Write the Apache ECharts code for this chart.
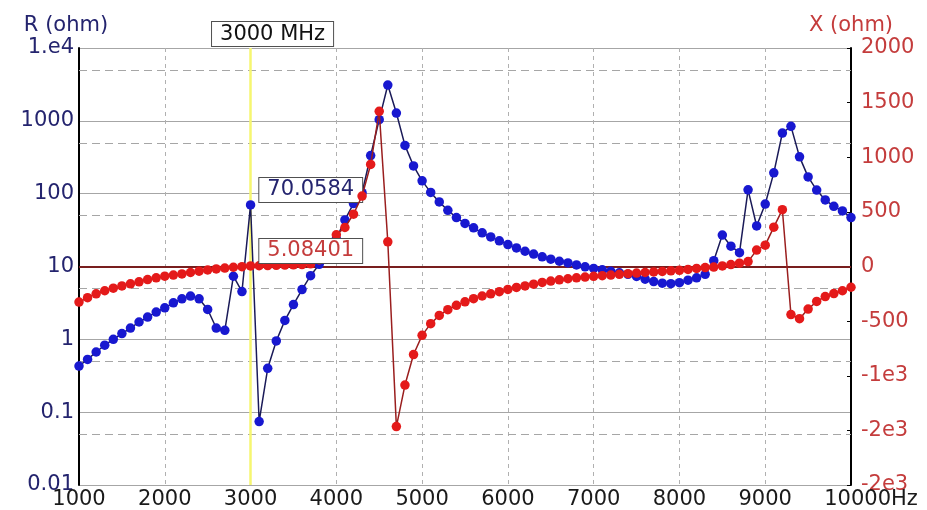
<!DOCTYPE html>
<html>
<head>
<meta charset="utf-8">
<script src="https://cdn.jsdelivr.net/npm/echarts@6/dist/echarts.min.js"></script>
<style>
html,body{margin:0;padding:0;background:#fff;}
#chart{width:927px;height:510px;}
</style>
</head>
<body>
<div id="chart"></div>
<script>
// Frequency (MHz)
const freqs = [1000,1100,1200,1300,1400,1500,1600,1700,1800,1900,
  2000,2100,2200,2300,2400,2500,2600,2700,2800,2900,
  3000,3100,3200,3300,3400,3500,3600,3700,3800,3900,
  4000,4100,4200,4300,4400,4500,4600,4700,4800,4900,
  5000,5100,5200,5300,5400,5500,5600,5700,5800,5900,
  6000,6100,6200,6300,6400,6500,6600,6700,6800,6900,
  7000,7100,7200,7300,7400,7500,7600,7700,7800,7900,
  8000,8100,8200,8300,8400,8500,8600,8700,8800,8900,
  9000,9100,9200,9300,9400,9500,9600,9700,9800,9900,10000];
// R (ohm), log axis
const rValues = [0.43,0.53,0.67,0.83,1.0,1.2,1.43,1.73,2.02,2.37,
  2.71,3.17,3.6,3.92,3.6,2.57,1.43,1.33,7.35,4.53,
  70.0584,0.0743,0.4,0.95,1.82,3.0,4.82,7.48,10.7,15,
  24,43.6,73,103,334,1037,3100,1280,460,240,
  150,104,77,59,47,39,34,29,25.5,22.5,
  20,18,16.2,14.8,13.6,12.6,11.8,11.2,10.5,9.9,
  9.4,9.0,8.6,8.2,7.8,7.3,6.7,6.2,5.9,5.8,
  6.0,6.5,7.0,7.8,12,27,19,15.5,113,36,
  72,193,680,840,320,170,112,82,67,58,47];
// X (ohm), linear axis
const xValues = [-326,-285,-250,-222,-198,-178,-159,-140,-120,-104,
  -89,-78,-68,-55,-43,-32,-22,-14,-7,-2,
  5.08401,7,9,11,13,15,18,25,60,165,
  290,357,479,645,934,1420,226,-1465,-1085,-806,
  -630,-523,-448,-395,-355,-323,-295,-270,-250,-230,
  -210,-192,-178,-162,-146,-133,-122,-112,-104,-97,
  -90,-84,-78,-72,-66,-60,-55,-50,-45,-40,
  -35,-27,-18,-10,-5,5,18,30,45,150,
  195,360,520,-440,-478,-390,-320,-275,-248,-222,-190];
const cursorFreq = 3000;
const dashLevels = [5000, 500, 50, 5, 0.5, 0.05];
const leftTickLabels = {'-2':'0.01','-1':'0.1','0':'1','1':'10','2':'100','3':'1000','4':'1.e4'};
const rightTickLabels = {'-2000':'-2e3','-1500':'-2e3','-1000':'-1e3','-500':'-500','0':'0','500':'500','1000':'1000','1500':'1500','2000':'2000'};

const FONT = 'DejaVu Sans';
const FS = 21;
const boxLabel = (color) => ({
  show: true, position: 'right', distance: 4, offset: [0, -15],
  formatter: p => String(p.value[1]),
  color: color, fontFamily: FONT, fontSize: FS, lineHeight: 21,
  backgroundColor: '#ffffff', borderColor: '#505050', borderWidth: 1,
  padding: [2, 8, 1, 8]
});

const blueData = freqs.map((f, i) => f === cursorFreq
  ? { value: [f, rValues[i]], label: boxLabel('#24246e') }
  : [f, rValues[i]]);
const redData = freqs.map((f, i) => f === cursorFreq
  ? { value: [f, xValues[i]], label: boxLabel('#c43c3c') }
  : [f, xValues[i]]);

const chart = echarts.init(document.getElementById('chart'), null, {renderer: 'canvas'});
chart.setOption({
  animation: false,
  backgroundColor: '#ffffff',
  grid: { left: 79, right: 76, top: 48, bottom: 23 },
  xAxis: {
    type: 'value', min: 1000, max: 10000, interval: 1000,
    axisLine: { lineStyle: { color: '#000', width: 2 } },
    axisTick: { show: false },
    axisLabel: {
      margin: 4, color: '#1a1a1a', fontFamily: FONT, fontSize: FS,
      showMinLabel: true, showMaxLabel: true,
      formatter: v => v === 10000 ? '{s|}10000Hz' : String(v),
      rich: { s: { width: 40 } }
    },
    splitLine: { show: true, lineStyle: { color: '#b0b0b0', type: [4, 4], width: 1 } }
  },
  yAxis: [
    {
      type: 'log', logBase: 10, min: 0.01, max: 10000, splitNumber: 6,
      position: 'left',
      name: 'R (ohm)', nameLocation: 'end', nameGap: 12,
      nameTextStyle: { color: '#24246e', fontFamily: FONT, fontSize: FS, align: 'center', padding: [0, 26, 0, 0] },
      axisLine: { show: true, lineStyle: { color: '#000', width: 2 } },
      axisTick: { show: false },
      axisLabel: {
        margin: 5, color: '#24246e', fontFamily: FONT, fontSize: FS,
        formatter: v => leftTickLabels[String(Math.round(Math.log10(v)))] || ''
      },
      splitLine: { show: true, lineStyle: { color: '#a6a6a6', width: 1 } }
    },
    {
      type: 'value', min: -2000, max: 2000, interval: 500,
      position: 'right',
      name: 'X (ohm)', nameLocation: 'end', nameGap: 12,
      nameTextStyle: { color: '#c43c3c', fontFamily: FONT, fontSize: FS, align: 'center' },
      axisLine: { show: true, lineStyle: { color: '#000', width: 2 } },
      axisTick: { show: true, inside: true, length: 4, lineStyle: { color: '#000' } },
      axisLabel: {
        margin: 10, color: '#c43c3c', fontFamily: FONT, fontSize: FS,
        formatter: v => rightTickLabels[String(Math.round(v))] || String(v)
      },
      splitLine: { show: false }
    }
  ],
  series: [
    {
      name: 'R', type: 'line', yAxisIndex: 0, data: blueData,
      symbol: 'circle', symbolSize: 9.5,
      itemStyle: { color: '#1818d0' },
      lineStyle: { color: '#1a1a58', width: 1.5 },
      z: 3,
      markLine: {
        silent: true, symbol: 'none', z: 1,
        label: { show: false },
        data: dashLevels.map(v => ({ yAxis: v, lineStyle: { color: '#a6a6a6', type: [8, 5], width: 1 } }))
          .concat([{ xAxis: cursorFreq, lineStyle: { color: '#f6f670', type: 'solid', width: 2.5 } }])
      },
      markPoint: {
        silent: true, symbol: 'circle', symbolSize: 0,
        data: [{
          coord: [cursorFreq, 10000],
          label: {
            show: true, position: 'top', distance: 2, offset: [22, 0],
            formatter: cursorFreq + ' MHz',
            color: '#111', fontFamily: FONT, fontSize: FS, lineHeight: 21,
            backgroundColor: '#ffffff', borderColor: '#505050', borderWidth: 1,
            padding: [2, 8, 1, 8]
          }
        }]
      }
    },
    {
      name: 'X', type: 'line', yAxisIndex: 1, data: redData,
      symbol: 'circle', symbolSize: 9.5,
      itemStyle: { color: '#e41a1a' },
      lineStyle: { color: '#9a1e1e', width: 1.5 },
      z: 4,
      markLine: {
        silent: true, symbol: 'none', z: 2,
        label: { show: false },
        data: [{ yAxis: 0, lineStyle: { color: '#a02828', type: 'solid', width: 1.5 } }]
      }
    }
  ]
});
</script>
</body>
</html>
